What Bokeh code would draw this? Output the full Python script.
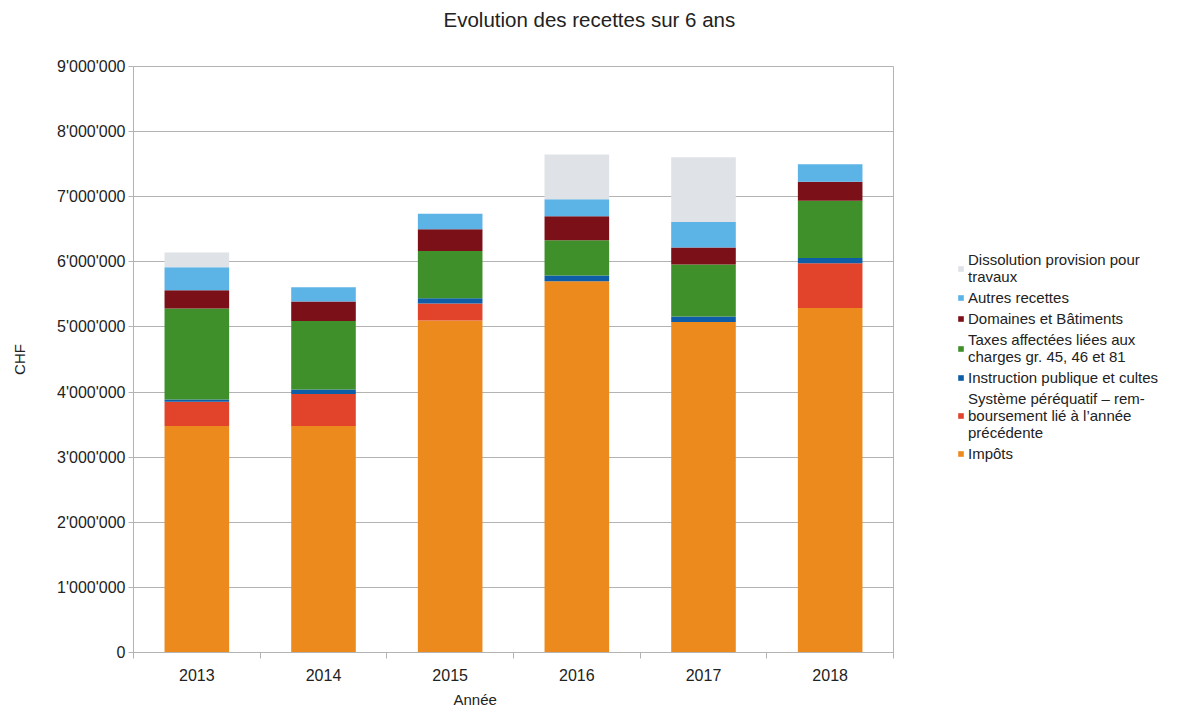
import numpy as np
from bokeh.plotting import figure
from bokeh.models import (Range1d, FixedTicker, CustomJSTickFormatter, Legend, LegendItem, Title)
from bokeh.embed import file_html
from bokeh.resources import INLINE

years = ["2013", "2014", "2015", "2016", "2017", "2018"]
impots = [3480000, 3480000, 5100000, 5700000, 5075000, 5290000]
systeme = [370000, 490000, 260000, 0, 0, 690000]
instruction = [35000, 70000, 80000, 90000, 85000, 80000]
taxes = [1400000, 1050000, 725000, 540000, 800000, 880000]
domaines = [280000, 300000, 335000, 370000, 260000, 290000]
autres = [350000, 220000, 240000, 260000, 390000, 270000]
dissolution = [230000, 0, 0, 690000, 995000, 0]

series_keys = ["impots", "systeme", "instruction", "taxes", "domaines", "autres", "dissolution"]
series_labels = ["Impôts",
                 "Système péréquatif – rem-\nboursement lié à l’année\nprécédente",
                 "Instruction publique et cultes",
                 "Taxes affectées liées aux\ncharges gr. 45, 46 et 81",
                 "Domaines et Bâtiments",
                 "Autres recettes",
                 "Dissolution provision pour\ntravaux"]
colors = ["#ec8a1e", "#e2432b", "#0d5ea6", "#3f902b", "#7b1018", "#5bb3e6", "#dfe2e6"]
y_ticks = [0, 1000000, 2000000, 3000000, 4000000, 5000000, 6000000, 7000000, 8000000, 9000000]

xpos = [i + 0.5 for i in range(len(years))]
data = dict(x=xpos, impots=impots, systeme=systeme, instruction=instruction, taxes=taxes,
            domaines=domaines, autres=autres, dissolution=dissolution)

FONT = "Liberation Sans"
GRID = "#b3b3b3"
TXT = "#222222"

p = figure(title=None, frame_width=760, frame_height=586, output_backend="svg", toolbar_location=None,
           x_range=Range1d(0, 6), y_range=Range1d(0, 9000000),
           min_border_left=133, min_border_right=272, min_border_top=66, min_border_bottom=40)
p.outline_line_color = GRID
p.background_fill_color = "white"
p.border_fill_color = "white"

renderers = p.vbar_stack(series_keys, x="x", width=0.51, color=colors, line_color=None, source=data)

# spacer between frame and title, then the title itself
p.add_layout(Title(text=" ", standoff=33, text_font_size="1px"), "above")
p.add_layout(Title(text="Evolution des recettes sur 6 ans", align="left", offset=310, standoff=0,
                   text_font=FONT, text_font_size="20.5px", text_font_style="normal", text_color=TXT), "above")

# axes
p.xgrid.grid_line_color = None
p.ygrid.grid_line_color = GRID
p.ygrid.ticker = FixedTicker(ticks=y_ticks)

p.xaxis.ticker = FixedTicker(ticks=xpos, minor_ticks=list(range(len(years) + 1)))
p.xaxis.major_label_overrides = {x: y for x, y in zip(xpos, years)}
p.xaxis.major_tick_line_color = None
p.xaxis.minor_tick_out = 6
p.xaxis.minor_tick_in = 0
p.xaxis.minor_tick_line_color = GRID
p.xaxis.axis_line_color = GRID
p.xaxis.major_label_text_font = FONT
p.xaxis.major_label_text_font_size = "16px"
p.xaxis.major_label_text_color = TXT
p.xaxis.major_label_standoff = 10

p.add_layout(Title(text="Année", align="left", offset=320, standoff=11,
                   text_font=FONT, text_font_size="15px", text_font_style="normal", text_color=TXT), "below")

p.yaxis.ticker = FixedTicker(ticks=y_ticks)
p.yaxis.formatter = CustomJSTickFormatter(code="return Math.round(tick).toLocaleString('en-US').replace(/,/g, \"'\");")
p.yaxis.major_tick_out = 5
p.yaxis.major_tick_in = 0
p.yaxis.minor_tick_line_color = None
p.yaxis.major_tick_line_color = GRID
p.yaxis.axis_line_color = GRID
p.yaxis.major_label_text_font = FONT
p.yaxis.major_label_text_font_size = "16px"
p.yaxis.major_label_text_color = TXT
p.yaxis.major_label_standoff = 3
p.yaxis.axis_label = "CHF"
p.yaxis.axis_label_text_font = FONT
p.yaxis.axis_label_text_font_size = "15px"
p.yaxis.axis_label_text_font_style = "normal"
p.yaxis.axis_label_text_color = TXT
p.yaxis.axis_label_standoff = 26

items = [LegendItem(label=lab, renderers=[r]) for lab, r in zip(series_labels, renderers)]
items = items[::-1]
legend = Legend(items=items, location=(64, 190), orientation="vertical",
                glyph_width=7, glyph_height=7, label_standoff=4, spacing=4, label_height=17,
                label_text_font=FONT, label_text_font_size="15px", label_text_color=TXT,
                label_text_line_height=1.2,
                padding=0, margin=0, border_line_color=None, background_fill_alpha=0)
p.add_layout(legend, "right")

open("out.html", "w").write(file_html(p, INLINE))
